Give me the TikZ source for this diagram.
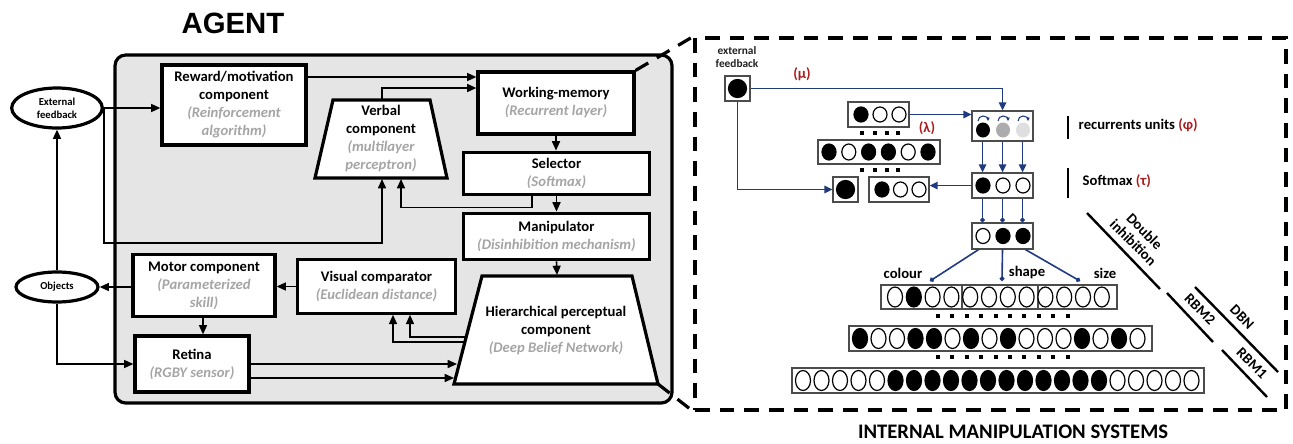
\documentclass[tikz,border=0pt]{standalone}
\usepackage{fontspec}
\setmainfont{Carlito}
\newfontfamily\agentfont{Liberation Sans}
\usetikzlibrary{arrows.meta,calc,shapes.geometric}

\definecolor{netblue}{RGB}{32,58,128}
\definecolor{paramred}{RGB}{170,30,30}
\definecolor{subgrey}{RGB}{165,165,165}
\newcommand\subtxt[1]{{\color{subgrey}\itshape #1}}

\tikzset{
  comp/.style={draw, line width=2.4pt, fill=white, align=center, inner sep=1pt,
    font=\fontsize{11}{13.5}\selectfont\bfseries},
  env/.style={draw, ellipse, line width=2.4pt, fill=white, align=center, inner sep=0pt,
    font=\fontsize{8}{9.5}\selectfont\bfseries},
  arr/.style={line width=1.2pt, -{Triangle[length=7pt,width=6pt]}},
  barr/.style={netblue, line width=1.3pt, -{Triangle[length=6pt,width=5.5pt]}},
  bdot/.style={netblue, line width=1.2pt, -{Circle[length=3.5pt]}},
  layer/.style={draw=gray!60!black, line width=0.9pt, fill=white, inner sep=0pt},
  lbl/.style={font=\fontsize{11}{12}\selectfont\bfseries},
  zoomline/.style={line width=2.4pt, dash pattern=on 11pt off 7.5pt},
}

% one row of units: x of first unit, y, step, radii, fills
\newcommand\unitrow[5]{%
  \foreach \c [count=\k from 0] in {#5}
    \draw[line width=0.9pt, fill=\c] ({#1+\k*#3},#2) ellipse (#4);}

\begin{document}
\begin{tikzpicture}[x=0.75pt, y=-0.75pt]

    % Frame in pixel units of the original
    \useasboundingbox (0,0) rectangle (1293,443);

    % Agent frame
    \node[font=\agentfont\bfseries\fontsize{22}{26}\selectfont] (agent) at (233,23) {AGENT};
    \draw[line width=2.4pt, fill=gray!20, rounded corners=8pt] (115,55) rectangle (672,403);

    % Environment
    \node[env, minimum width=68pt, minimum height=30pt] (extfb) at (57,108) {External\\feedback};
    \node[env, minimum width=61.5pt, minimum height=22.5pt] (objects) at (57,287) {Objects};

    % Components
    \node[comp, minimum width=108pt, minimum height=60pt] (reward) at (234,105)
        {Reward/motivation\\component\\\subtxt{(Reinforcement}\\\subtxt{algorithm)}};
    \node[comp, minimum width=117pt, minimum height=46.5pt] (wm) at (556,103)
        {Working-memory\\\subtxt{(Recurrent layer)}};
    \node[comp, minimum width=140pt, minimum height=32pt] (selector) at (556.5,173.5)
        {Selector\\\subtxt{(Softmax)}};
    \node[comp, minimum width=140pt, minimum height=35pt] (manip) at (556.5,236.5)
        {Manipulator\\\subtxt{(Disinhibition mechanism)}};
    \node[comp, minimum width=118pt, minimum height=40pt] (visual) at (376.5,286.5)
        {Visual comparator\\\subtxt{(Euclidean distance)}};
    \node[comp, minimum width=106.5pt, minimum height=46pt] (motor) at (204,285.5)
        {Motor component\\\subtxt{(Parameterized}\\\subtxt{skill)}};
    \node[comp, minimum width=85.5pt, minimum height=42pt] (retina) at (192,364)
        {Retina\\\subtxt{(RGBY sensor)}};

    % Verbal component (trapezoid)
    \coordinate (verbal nw) at (333,100);
    \coordinate (verbal ne) at (430,100);
    \coordinate (verbal se) at (447,178);
    \coordinate (verbal sw) at (315,178);
    \draw[line width=2.4pt, fill=white] (verbal nw) -- (verbal ne) -- (verbal se) -- (verbal sw) -- cycle;
    \node[comp, draw=none, fill=none] (verbal) at (381,139)
        {Verbal\\component\\\subtxt{(multilayer}\\\subtxt{perceptron)}};
    \coordinate (verbal out) at (382,100);
    \coordinate (verbal in1) at (382,179);
    \coordinate (verbal in2) at (401,179);

    % Hierarchical perceptual component (trapezoid)
    \coordinate (hpc nw) at (482,276);
    \coordinate (hpc ne) at (632,276);
    \coordinate (hpc se) at (658,384);
    \coordinate (hpc sw) at (454,384);
    \draw[line width=2.4pt, fill=white] (hpc nw) -- (hpc ne) -- (hpc se) -- (hpc sw) -- cycle;
    \node[comp, draw=none, fill=none] (hpc) at (556,331)
        {Hierarchical perceptual\\component\\\subtxt{(Deep Belief Network)}};
    \coordinate (hpc top) at (557,275);
    \coordinate (hpc in1) at (457,364);
    \coordinate (hpc in2) at (454,378);
    \coordinate (hpc out1) at (466,337);
    \coordinate (hpc out2) at (465,342);

    % Connections
    \draw[arr] (extfb.east) -- (extfb.east -| reward.west);
    \draw[arr] (reward.east |- 0,77) -- (wm.west |- 0,77);
    \draw[arr] (verbal out) |- (wm.west |- 0,88);
    \draw[arr] (wm.south) -- (wm.south |- selector.north);
    \draw[arr] (selector.south) -- (selector.south |- manip.north);
    \draw[arr] (selector.south -| 532,0) -- ++(0,11) -| (verbal in2);
    \draw[arr] (extfb.east) -- ++(0,135) -| (verbal in1);
    \draw[arr] (objects.north) -- (extfb.south);
    \draw[arr] (objects.south) |- (retina.west);
    \draw[arr] (motor.west |- objects.east) -- (objects.east);
    \draw[arr] (visual.west) -- (visual.west -| motor.east);
    \draw[arr] (motor.south -| 203,0) -- (retina.north -| 203,0);
    \draw[arr] (retina.east |- hpc in1) -- (hpc in1);
    \draw[arr] (retina.east |- hpc in2) -- (hpc in2);
    \draw[arr] (hpc out1) -| (visual.south -| 410,0);
    \draw[arr] (hpc out2) -| (visual.south -| 393,0);
    \draw[arr] (manip.south) -- (hpc top);

    % Internal manipulation systems
    \node[draw, zoomline, minimum width=443.25pt, minimum height=279pt, inner sep=0pt] (ims) at (990.5,224) {};
    \node[font=\fontsize{15.5}{18}\selectfont\bfseries] (imstitle) at (1013,432) {INTERNAL MANIPULATION SYSTEMS};
    \draw[zoomline] (wm.north east) -- (ims.north west);
    \draw[zoomline] (hpc se) -- (ims.south west);

    % Unit boxes
    \node[font=\fontsize{8.5}{10}\selectfont\bfseries, align=center, text=gray!25!black] (extlabel) at (737,57) {external\\feedback};
    \node[layer, minimum width=18.75pt, minimum height=18.75pt] (extunit) at (737.5,88.5) {};
    \node[layer, minimum width=18.75pt, minimum height=18.75pt] (rewardunit) at (845.5,189.5) {};
    \node[layer, minimum width=45.75pt, minimum height=18.75pt] (wordin) at (878.5,114.5) {};
    \node[layer, minimum width=91.5pt, minimum height=18pt] (hidden) at (879,152) {};
    \node[layer, minimum width=45pt, minimum height=18.75pt] (wordout) at (899,189.5) {};
    \node[layer, minimum width=45.75pt, minimum height=22.5pt] (recurrent) at (1002.5,126) {};
    \node[layer, minimum width=45.75pt, minimum height=18.75pt] (softmax) at (1002.5,185.5) {};
    \node[layer, minimum width=45.75pt, minimum height=19.5pt] (manipunits) at (1002.5,236) {};
    \node[layer, minimum width=177pt, minimum height=18pt] (toprow) at (999,297) {};
    \node[layer, minimum width=227.25pt, minimum height=18.75pt] (midrow) at (1000.5,338.5) {};
    \node[layer, minimum width=309pt, minimum height=18.75pt] (botrow) at (998,380.5) {};
    \draw[gray!60!black, line width=0.9pt] (toprow.north -| 962,0) -- (toprow.south -| 962,0);
    \draw[gray!60!black, line width=0.9pt] (toprow.north -| 1038,0) -- (toprow.south -| 1038,0);

    % Units
    \unitrow{737.5}{88.5}{0}{9 and 9}{black}
    \unitrow{845.5}{189.5}{0}{9 and 9}{black}
    \unitrow{861}{114.5}{19}{7 and 7.5}{black,white,white}
    \unitrow{829}{152}{19.8}{7 and 8}{black,white,black,black,white,black}
    \unitrow{882}{189.5}{18.5}{7 and 7.5}{black,white,white}
    \unitrow{983}{185.5}{20}{7 and 7.5}{black,white,white}
    \unitrow{983}{236}{20}{7 and 7.5}{white,black,black}
    \unitrow{895}{297}{18.8}{7.5 and 10}{white,black,white,white,white,white,white,white,white,white,white,white}
    \unitrow{860}{338.5}{18.5}{7.5 and 10}{black,white,white,black,black,white,black,white,black,white,white,white,black,white,black,white}
    \unitrow{803}{380.5}{18.5}{7.5 and 10}{white,white,white,white,white,black,black,black,black,black,black,black,black,black,black,black,black,white,white,white,white,white}
    \foreach \x/\c in {983/black,1003/gray!65,1023/gray!25}
        \fill[\c] (\x,130) ellipse (7 and 7.5);
    \foreach \x in {983,1003,1023}
        \draw[netblue, line width=0.8pt, -{Triangle[length=2.5pt,width=2.5pt]}] (\x-5,121) arc (180:360:5);

    % Dots between layers
    \foreach \x in {862,875,887,898} {
        \fill (\x-2,131) rectangle ++(4,4);
        \fill (\x-2,168) rectangle ++(4,4);
    }
    \foreach \k in {0,...,9} {
        \fill ({938+\k*14.4-2},314) rectangle ++(4,4);
        \fill ({938+\k*14.4-2},355) rectangle ++(4,4);
    }

    % Blue connections
    \draw[barr] (extunit.east) -| (recurrent.north);
    \draw[barr] (extunit.south) |- (rewardunit.west);
    \draw[barr] (wordin.east) -- (wordin.east -| recurrent.west);
    \draw[barr] (softmax.west) -- (softmax.west -| wordout.east);
    \foreach \dx in {-20,0,20} {
        \draw[barr] ($(recurrent.south)+(\dx,0)$) -- ($(softmax.north)+(\dx,0)$);
        \draw[bdot] ($(softmax.south)+(\dx,0)$) -- ($(manipunits.north)+(\dx,0)$);
    }
    \coordinate (colour in) at (930,281);
    \coordinate (shape in) at (1002,281);
    \coordinate (size in) at (1080,281);
    \draw[bdot] ($(manipunits.south)+(-24,0)$) -- (colour in);
    \draw[bdot] ($(manipunits.south)+(0,0)$) -- (shape in);
    \draw[bdot] ($(manipunits.south)+(23,0)$) -- (size in);

    % Labels
    \node[lbl, text=paramred] (mu) at (802,74) {(μ)};
    \node[lbl, text=paramred] (lambda) at (927,128) {(λ)};
    \node[lbl] (colour) at (903,273) {colour};
    \node[lbl] (shape) at (1027,273) {shape};
    \node[lbl] (size) at (1105,273) {size};
    \draw[line width=1.8pt] (1068,116) -- (1068,139);
    \node[lbl, anchor=west] (reclabel) at (1074,125) {recurrents units \textcolor{paramred}{(φ)}};
    \draw[line width=1.8pt] (1068,168) -- (1068,198);
    \node[lbl, anchor=west] (smlabel) at (1078,181) {Softmax \textcolor{paramred}{(τ)}};

    % Layer groups
    \draw[line width=1.8pt] (1087,213) -- (1160,289);
    \node[lbl, rotate=-45, align=center, inner sep=1pt] (dinh) at (1139,237) {Double\\inhibition};
    \draw[line width=1.8pt] (1167,293) -- (1213,342);
    \node[lbl, rotate=-45, inner sep=1pt] (rbm2) at (1200,309) {RBM2};
    \draw[line width=1.8pt] (1222,350) -- (1267,397);
    \node[lbl, rotate=-45, inner sep=1pt] (rbm1) at (1252,363) {RBM1};
    \draw[line width=1.8pt] (1195,287) -- (1278,372);
    \node[lbl, rotate=-45, inner sep=1pt] (dbn) at (1242,317) {DBN};

\end{tikzpicture}
\end{document}
